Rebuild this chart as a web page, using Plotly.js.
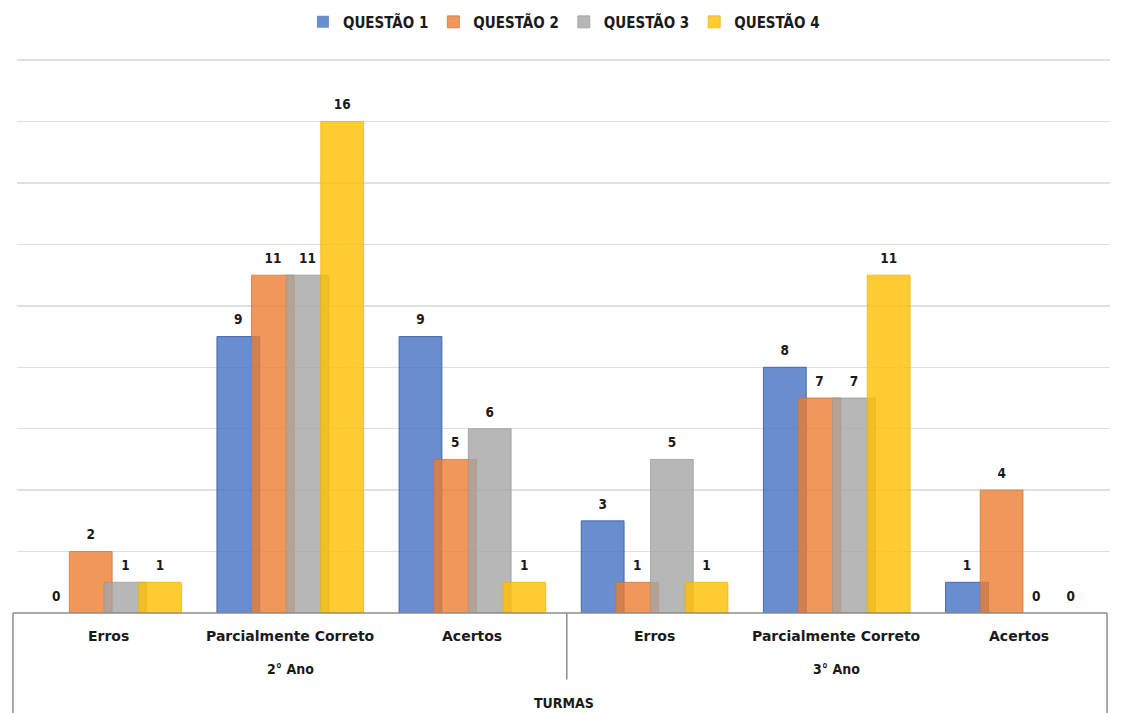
<!DOCTYPE html>
<html>
<head>
<meta charset="utf-8">
<script src="https://cdn.plot.ly/plotly-3.0.1.min.js"></script>
<style>html,body{margin:0;padding:0;background:#fff;}#chart{width:1122px;height:713px;}</style>
</head>
<body>
<div id="chart"></div>
<script>
const groups = ['2° Ano', '2° Ano', '2° Ano', '3° Ano', '3° Ano', '3° Ano'];
const categories = ['Erros', 'Parcialmente Correto', 'Acertos', 'Erros', 'Parcialmente Correto', 'Acertos'];
const groupLabels = ['2° Ano', '3° Ano'];
const seriesNames = ['QUESTÃO 1', 'QUESTÃO 2', 'QUESTÃO 3', 'QUESTÃO 4'];
const questao1 = [0, 9, 9, 3, 8, 1];
const questao2 = [2, 11, 5, 1, 7, 4];
const questao3 = [1, 11, 6, 5, 7, 0];
const questao4 = [1, 16, 1, 1, 11, 0];
const axisTitle = 'TURMAS';

const values = [questao1, questao2, questao3, questao4];
const fills = ['rgba(68,114,196,0.8)', 'rgba(237,125,49,0.8)', 'rgba(165,165,165,0.8)', 'rgba(255,192,0,0.8)'];
const edges = ['rgba(60,95,165,0.9)', 'rgba(200,110,50,0.7)', 'rgba(150,150,150,0.7)', 'rgba(230,175,0,0.7)'];
const offsets = [-0.4025, -0.2125, -0.0225, 0.1675];
const barWidth = 0.235;
const labelLift = 0.2; // extra gap (in axis units) between bar top and its data label
const COND = '"DejaVu Sans Condensed", "DejaVu Sans", Roboto, sans-serif';
const WIDE = '"DejaVu Sans", Roboto, sans-serif';
const INK = '#1a1a1a';

const barTraces = values.map((v, i) => ({
  type: 'bar',
  name: seriesNames[i],
  x: [groups, categories],
  y: v,
  width: barWidth,
  offset: offsets[i],
  marker: {color: fills[i], line: {color: edges[i], width: v.map(d => d > 0 ? 1 : 0)}},
  textposition: 'none',
  hoverinfo: 'x+y+name'
}));

// transparent copies carrying the data labels, lifted slightly above the bars
const labelTraces = values.map((v, i) => ({
  type: 'bar',
  name: seriesNames[i],
  showlegend: false,
  x: [groups, categories],
  y: v,
  base: labelLift,
  width: barWidth,
  offset: offsets[i],
  marker: {color: 'rgba(0,0,0,0)', line: {width: 0}},
  text: v.map(String),
  textposition: 'outside',
  textfont: {family: COND, size: 13.5, color: INK, weight: 'bold'},
  cliponaxis: false,
  hoverinfo: 'skip'
}));

const nCat = categories.length;
const annotations = [];
categories.forEach((c, i) => {
  annotations.push({
    text: c, xref: 'paper', yref: 'paper', x: (i + 0.5) / nCat, y: -0.0416,
    xanchor: 'center', yanchor: 'middle', showarrow: false,
    font: {family: WIDE, size: 14, color: INK, weight: 'bold'}
  });
});
groupLabels.forEach((g, j) => {
  annotations.push({
    text: g, xref: 'paper', yref: 'paper', x: (j + 0.5) / groupLabels.length, y: -0.1013,
    xanchor: 'center', yanchor: 'middle', showarrow: false,
    font: {family: COND, size: 14, color: INK, weight: 'bold'}
  });
});
annotations.push({
  text: axisTitle, xref: 'paper', yref: 'paper', x: 0.5, y: -0.1628,
  xanchor: 'center', yanchor: 'middle', showarrow: false,
  font: {family: COND, size: 14, color: INK, weight: 'bold'}
});

const lineStyle = {color: '#8c8c8c', width: 1.5};
const layout = {
  width: 1122,
  height: 713,
  margin: {l: 17, r: 12, t: 58, b: 100, autoexpand: false},
  paper_bgcolor: '#ffffff',
  plot_bgcolor: '#ffffff',
  barmode: 'overlay',
  font: {family: COND, size: 12, color: INK},
  showlegend: true,
  legend: {
    orientation: 'h',
    xref: 'container', yref: 'container',
    x: 0.27, xanchor: 'left',
    y: 0.969, yanchor: 'middle',
    font: {family: COND, size: 15, color: INK, weight: 'bold'},
    itemwidth: 30
  },
  xaxis: {
    type: 'multicategory',
    showdividers: false,
    showline: false,
    showticklabels: false,
    ticks: '',
    showgrid: false,
    zeroline: false
  },
  yaxis: {
    range: [0, 18.07],
    dtick: 2,
    showticklabels: false,
    showgrid: true,
    gridcolor: '#e0e0e0',
    gridwidth: 1.5,
    zeroline: false,
    ticks: ''
  },
  annotations: annotations,
  shapes: [
    {type: 'line', xref: 'paper', yref: 'paper', x0: -0.0037, x1: 0.9973, y0: 0, y1: 0, line: lineStyle},
    {type: 'line', xref: 'paper', yref: 'paper', x0: -0.0037, x1: -0.0037, y0: 0, y1: -0.18, line: lineStyle},
    {type: 'line', xref: 'paper', yref: 'paper', x0: 0.503, x1: 0.503, y0: 0, y1: -0.12, line: lineStyle},
    {type: 'line', xref: 'paper', yref: 'paper', x0: 0.9973, x1: 0.9973, y0: 0, y1: -0.18, line: lineStyle}
  ]
};

Plotly.newPlot('chart', barTraces.concat(labelTraces), layout, {displayModeBar: false, staticPlot: true});
</script>
</body>
</html>
